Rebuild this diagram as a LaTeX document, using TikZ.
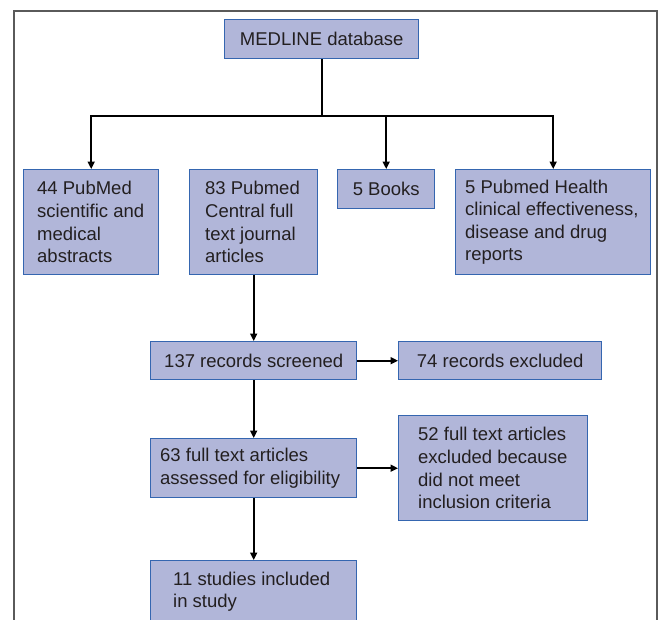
\documentclass[tikz,border=0pt]{standalone}
\usepackage{fontspec}
\setmainfont{Liberation Sans}
\usetikzlibrary{arrows.meta}
\definecolor{boxfill}{HTML}{B1B6D9}
\definecolor{boxline}{HTML}{3566B0}
\definecolor{framegray}{HTML}{5A5A5A}
\definecolor{txt}{HTML}{231F20}
\tikzset{
  boxfont/.style={text=txt, font=\fontsize{18.5}{22.6}\selectfont},
  flowbox/.style 2 args={draw=boxline, fill=boxfill, line width=1.4pt, anchor=north west,
    inner sep=0pt, boxfont, align=center, minimum width=#1, minimum height=#2},
  boxtext/.style={boxfont, align=left, anchor=west, inner sep=0pt},
  conn/.style={line width=1.7pt, draw=black},
  arr/.style={conn, -{Triangle[length=7.5pt,width=7pt]}},
}
\begin{document}
\begin{tikzpicture}[x=1pt,y=-1pt]
\useasboundingbox (0,0) rectangle (659,619);
\begin{scope}
\clip (0,0) rectangle (659,619);
\draw[framegray, line width=1.4pt] (14,625) -- (14,11) -- (657,11) -- (657,625);

\node[flowbox={194}{39}] (med) at (224,19) {MEDLINE database};
\node[flowbox={135}{105}] (a44) at (23,169) {};
\node[boxtext] (a44t) at ([xshift=14pt]a44.west) {44 PubMed\\scientific and\\medical\\abstracts};
\node[flowbox={128}{105}] (a83) at (189,169) {};
\node[boxtext] (a83t) at ([xshift=16pt]a83.west) {83 Pubmed\\Central full\\text journal\\articles};
\node[flowbox={97}{39}] (books) at (337,169) {5 Books};
\node[flowbox={195}{105}] (health) at (455,169) {};
\node[boxtext] (healtht) at ([xshift=10pt]health.west) {5 Pubmed Health\\clinical effectiveness,\\disease and drug\\reports};
\node[flowbox={206}{38}] (scr) at (150,341) {137 records screened};
\node[flowbox={203}{38}] (excl) at (398,341) {74 records excluded};
\node[flowbox={206}{59}] (elig) at (150,438) {};
\node[boxtext] (eligt) at ([xshift=10pt]elig.west) {63 full text articles\\assessed for eligibility};
\node[flowbox={189}{105}] (ex52) at (398,415) {};
\node[boxtext] (ex52t) at ([xshift=20pt]ex52.west) {52 full text articles\\excluded because\\did not meet\\inclusion criteria};
\node[flowbox={206}{62}] (incl) at (150,560) {};
\node[boxtext] (inclt) at ([xshift=23pt]incl.west) {11 studies included\\in study};

\coordinate (bus) at (med.south |- 0,116);
\draw[conn] (med.south) -- (bus);
\draw[arr] (bus) -| (a44.north);
\draw[arr] (bus) -| (health.north);
\draw[arr] (books.north |- bus) -- (books.north);
\draw[arr] (a83.south) -- (scr.north);
\draw[arr] (scr.east) -- (excl.west);
\draw[arr] (scr.south) -- (elig.north);
\draw[arr] (elig.east) -- (ex52.west);
\draw[arr] (elig.south) -- (incl.north);
\end{scope}
\end{tikzpicture}
\end{document}
